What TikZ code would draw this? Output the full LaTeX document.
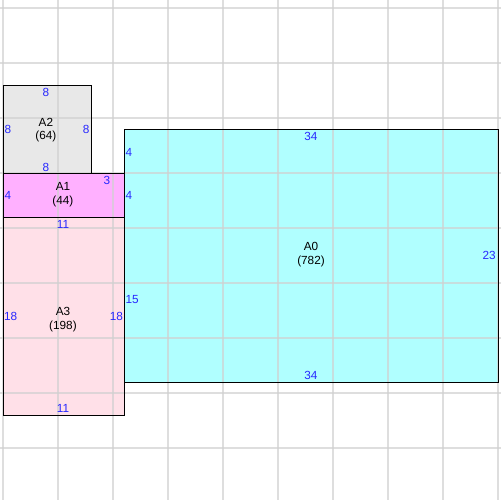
\documentclass[tikz,border=0pt]{standalone}
\usepackage{fontspec}
\setmainfont{Liberation Sans}
\definecolor{gridgray}{RGB}{208,208,208}
\definecolor{numblue}{RGB}{40,40,255}
\definecolor{fillA0}{RGB}{176,255,255}
\definecolor{fillA1}{RGB}{255,176,255}
\definecolor{fillA2}{RGB}{232,232,232}
\definecolor{fillA3}{RGB}{255,224,232}
\tikzset{
  part/.style={draw=black, line width=0.55pt},
  len/.style={text=numblue, inner sep=0pt, font=\fontsize{6.7}{7.9}\selectfont},
  tag/.style={align=center, inner sep=0pt, font=\fontsize{6.7}{7.9}\selectfont}
}
\begin{document}
\begin{tikzpicture}[x=0.22cm, y=-0.22cm]

\useasboundingbox (-0.2727,-0.7273) rectangle (45.1818,44.7273);

% parts
\fill[fillA2] (0,7) rectangle (8,15);
\fill[fillA1] (0,15) rectangle (11,19);
\fill[fillA3] (0,19) rectangle (11,37);
\fill[fillA0] (11,11) rectangle (45,34);

% grid over the parts
\foreach \k in {0,5,...,45} {
    \draw[gridgray, opacity=0.7, line width=0.6pt] (\k,-1) -- (\k,46);
    \draw[gridgray, opacity=0.7, line width=0.6pt] (-1,\k) -- (46,\k);
}

\draw[part] (0,7) rectangle (8,15);
\draw[part] (0,15) rectangle (11,19);
\draw[part] (0,19) rectangle (11,37);
\draw[part] (11,11) rectangle (45,34);

% names and areas
\node (A2) at (3.9,11.1) [tag] {A2\\(64)};
\node (A1) at (5.45,17) [tag] {A1\\(44)};
\node (A3) at (5.45,28.3) [tag] {A3\\(198)};
\node (A0) at (28,22.45) [tag] {A0\\(782)};

% edge lengths
\path[every node/.style={len}]
    (3.9,7.64) node (a2t) {8}
    (0.45,11) node (a2l) {8}
    (7.55,11) node (a2r) {8}
    (3.9,14.45) node (a2b) {8}

    (0.45,17) node (a1l) {4}
    (9.45,15.64) node (a1t) {3}

    (5.45,19.64) node (a3t) {11}
    (0.7,28) node (a3l) {18}
    (10.3,28) node (a3r) {18}
    (5.45,36.4) node (a3b) {11}

    (11.45,13.1) node (a0la) {4}
    (11.45,17) node (a0lb) {4}
    (11.75,26.5) node (a0lc) {15}
    (28,11.64) node (a0t) {34}
    (28,33.4) node (a0b) {34}
    (44.2,22.5) node (a0r) {23};

\end{tikzpicture}
\end{document}
